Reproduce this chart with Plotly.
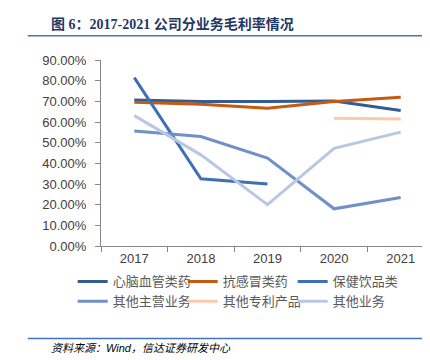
import plotly.graph_objects as go

years = ["2017", "2018", "2019", "2020", "2021"]
names = ["心脑血管类药", "抗感冒类药", "保健饮品类", "其他主营业务", "其他专利产品", "其他业务"]
xnxg = [0.707, 0.699, 0.699, 0.702, 0.656]
kgm = [0.696, 0.686, 0.667, 0.699, 0.720]
bjyp = [0.815, 0.325, 0.300, None, None]
qtzy = [0.557, 0.530, 0.425, 0.180, 0.235]
qtzl = [None, None, None, 0.618, 0.614]
qtyw = [0.631, 0.441, 0.200, 0.473, 0.551]
series = [xnxg, kgm, bjyp, qtzy, qtzl, qtyw]
colors = ["#335C92", "#C55A11", "#3F70B2", "#6F90C8", "#F8CBAD", "#B9C8E2"]

fig = go.Figure()
for n, v, c in zip(names, series, colors):
    fig.add_trace(go.Scatter(x=years, y=v, name=n, mode="lines",
                             line=dict(color=c, width=3), connectgaps=False))

fig.update_layout(
    width=430, height=360,
    margin=dict(l=93, r=4, t=52, b=122, autoexpand=False),
    paper_bgcolor="white", plot_bgcolor="white",
    font=dict(family="Liberation Sans, Noto Sans CJK SC", color="#595959"),
    showlegend=True,
    legend=dict(orientation="h", x=-0.085, y=-0.11, xanchor="left", yanchor="top",
                entrywidth=65, entrywidthmode="pixels", tracegroupgap=0,
                font=dict(size=13, color="#595959", family="Noto Sans CJK SC"),
                itemwidth=30, bgcolor="rgba(0,0,0,0)"),
    xaxis=dict(type="category", range=[-0.5, 4.5], tickson="boundaries",
               ticks="outside", ticklen=5, tickcolor="#868686",
               showline=True, linecolor="#868686", linewidth=1,
               showgrid=False, tickfont=dict(size=13, color="#404040")),
    yaxis=dict(range=[0, 0.9], dtick=0.1, tickformat=".2%",
               ticks="outside", ticklen=5, tickcolor="#868686",
               showline=True, linecolor="#868686", linewidth=1,
               showgrid=False, zeroline=False, ticklabelstandoff=6,
               tickfont=dict(size=13, color="#404040")),
)

fig.add_annotation(xref="paper", yref="paper", x=-0.21, y=1.195, xanchor="left", yanchor="middle",
                   showarrow=False, align="left", xshift=18,
                   text="<b>图 6：2017-2021 公司分业务毛利率情况</b>",
                   font=dict(family="Liberation Serif, Noto Sans CJK SC", size=14, color="#1F3864"))
fig.add_annotation(xref="paper", yref="paper", x=-0.21, y=-0.55, xanchor="left", yanchor="middle",
                   showarrow=False, align="left", xshift=18,
                   text="<i>资料来源：Wind，信达证券研发中心</i>",
                   font=dict(family="Liberation Sans, Noto Sans CJK SC", size=11, color="#000000"))
fig.add_shape(type="line", xref="paper", yref="paper", x0=-0.22, x1=0.99, y0=1.13, y1=1.13,
              line=dict(color="#4472C4", width=1.5))
fig.add_shape(type="line", xref="paper", yref="paper", x0=-0.22, x1=0.99, y0=-0.497, y1=-0.497,
              line=dict(color="#4472C4", width=1.5))

fig.write_html("out.html")
